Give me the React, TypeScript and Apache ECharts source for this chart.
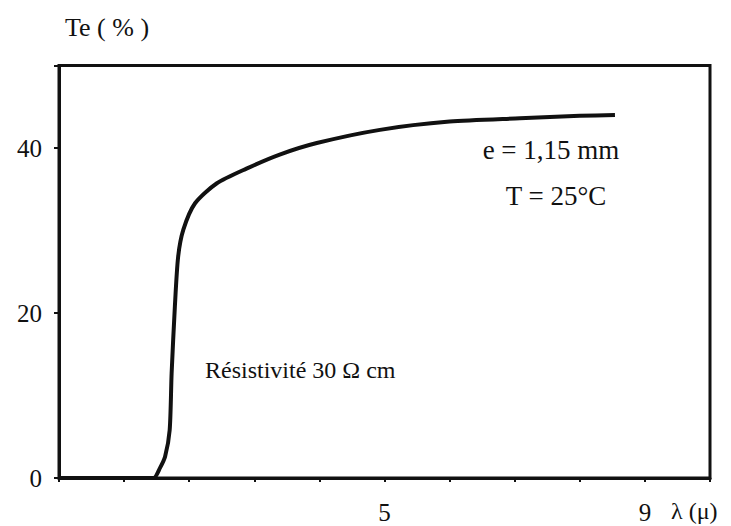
import React, { useEffect, useRef } from "react";
import * as echarts from "echarts";

const wavelengths = [0, 1.0, 1.45, 1.55, 1.63, 1.7, 1.73, 1.78, 1.83, 1.91, 2.09, 2.42, 2.88, 3.39, 3.96, 4.93, 6.0, 7.08, 8.0, 8.54];
const transmission = [0, 0, 0, 1.2, 2.6, 5.8, 12.7, 20.8, 26.8, 30.1, 33.3, 35.7, 37.5, 39.2, 40.6, 42.2, 43.2, 43.6, 43.9, 44.0];
const xLabelValues = [5, 9];
const yLabelValues = [0, 20, 40];

const FONT = "'Liberation Serif', 'DejaVu Serif', 'Times New Roman', serif";
const INK = "#111";

export default function App() {
  const ref = useRef<HTMLDivElement>(null);
  useEffect(() => {
    if (!ref.current) return;
    const chart = echarts.init(ref.current, undefined, { renderer: "svg" });
    const data = wavelengths.map((x, i) => [x, transmission[i]]);
    chart.setOption({
      animation: false,
      backgroundColor: "#fff",
      grid: {
        left: 59,
        right: 21,
        top: 65.5,
        bottom: 48,
        show: true,
        borderColor: INK,
        borderWidth: 3,
      },
      xAxis: {
        type: "value",
        min: 0,
        max: 10,
        interval: 1,
        splitLine: { show: false },
        axisLine: { show: true, lineStyle: { color: INK, width: 3 } },
        axisTick: { show: true, length: 4, lineStyle: { color: INK, width: 2 } },
        axisLabel: {
          color: INK,
          fontFamily: FONT,
          fontSize: 25,
          margin: 22,
          formatter: (v: number) => (xLabelValues.includes(v) ? String(v) : ""),
        },
      },
      yAxis: {
        type: "value",
        min: 0,
        max: 50,
        interval: 20,
        splitLine: { show: false },
        axisLine: { show: true, lineStyle: { color: INK, width: 3 } },
        axisTick: { show: true, length: 5, lineStyle: { color: INK, width: 2 } },
        axisLabel: {
          color: INK,
          fontFamily: FONT,
          fontSize: 25,
          margin: 17,
          formatter: (v: number) => (yLabelValues.includes(v) ? String(v) : ""),
        },
      },
      series: [
        {
          type: "line",
          data,
          showSymbol: false,
          smooth: 0.25,
          lineStyle: { color: INK, width: 4 },
        },
      ],
      graphic: [
        {
          type: "text",
          left: 65,
          top: 14,
          style: { text: "Te ( % )", fontFamily: FONT, fontSize: 26, fill: INK },
        },
        {
          type: "text",
          left: 671,
          top: 499,
          style: { text: "λ (μ)", fontFamily: FONT, fontSize: 24, fill: INK },
        },
        {
          type: "text",
          x: 551,
          y: 150,
          style: { text: "e = 1,15 mm", fontFamily: FONT, fontSize: 27, fill: INK, align: "center", verticalAlign: "middle" },
        },
        {
          type: "text",
          x: 556,
          y: 196,
          style: { text: "T = 25°C", fontFamily: FONT, fontSize: 27, fill: INK, align: "center", verticalAlign: "middle" },
        },
        {
          type: "text",
          x: 205,
          y: 370,
          style: { text: "Résistivité 30 Ω cm", fontFamily: FONT, fontSize: 24, fill: INK, align: "left", verticalAlign: "middle" },
        },
      ],
    });
    return () => chart.dispose();
  }, []);
  return <div ref={ref} style={{ position: "absolute", left: 0, top: 0, width: 731, height: 526 }} />;
}
